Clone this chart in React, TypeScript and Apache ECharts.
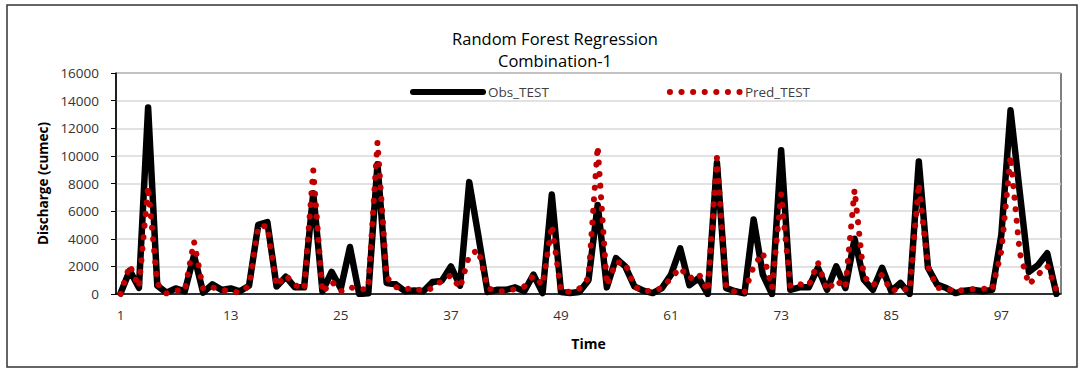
import React, { useEffect, useRef } from "react";
import * as echarts from "echarts";

const FONT = "'Open Sans', 'Noto Sans', sans-serif";

const categories = [
  "1","2","3","4","5","6","7","8","9","10","11","12","13","14","15","16","17","18","19","20",
  "21","22","23","24","25","26","27","28","29","30","31","32","33","34","35","36","37","38","39","40",
  "41","42","43","44","45","46","47","48","49","50","51","52","53","54","55","56","57","58","59","60",
  "61","62","63","64","65","66","67","68","69","70","71","72","73","74","75","76","77","78","79","80",
  "81","82","83","84","85","86","87","88","89","90","91","92","93","94","95","96","97","98","99","100",
  "101","102","103",
];

const obsTest = [
  50, 1700, 450, 13500, 600, 100, 400, 200, 2800, 100,
  700, 300, 400, 200, 600, 5000, 5200, 550, 1250, 480,
  480, 7300, 200, 1600, 400, 3400, 0, 50, 9400, 800,
  700, 200, 250, 200, 870, 950, 2000, 600, 8100, 4200,
  150, 300, 300, 480, 200, 1400, 70, 7200, 150, 70,
  150, 1000, 6450, 480, 2600, 2000, 550, 240, 70, 430,
  1400, 3300, 630, 1150, 0, 9500, 430, 200, 50, 5400,
  1400, 0, 10400, 300, 480, 480, 1900, 300, 2000, 430,
  4000, 1040, 300, 1900, 200, 800, 0, 9600, 1900, 680,
  430, 70, 240, 300, 200, 300, 4300, 13300, 7400, 1600,
  2100, 2950, 0,
];

const predTest = [
  0, 2100, 500, 7800, 750, 50, 250, 250, 3800, 360,
  480, 300, 200, 100, 600, 4900, 4900, 580, 1350, 650,
  340, 8950, 100, 900, 200, 500, 300, 400, 11000, 1200,
  500, 340, 430, 200, 430, 950, 1350, 430, 2800, 3200,
  430, 200, 200, 360, 550, 1330, 650, 5000, 200, 150,
  400, 1150, 10700, 630, 2300, 2250, 530, 200, 240, 430,
  1150, 1900, 1100, 1500, 200, 9850, 430, 150, 100, 2000,
  3000, 430, 7250, 550, 720, 580, 2300, 260, 1000, 430,
  7550, 1280, 600, 1400, 200, 450, 250, 8000, 2000, 430,
  430, 150, 340, 340, 390, 300, 3100, 10000, 3000, 680,
  1400, 2050, 300,
];

const yMin = 0;
const yMax = 16000;
const yStep = 2000;

export default function App() {
  const ref = useRef<HTMLDivElement>(null);

  useEffect(() => {
    if (!ref.current) return;
    const chart = echarts.init(ref.current, undefined, { renderer: "svg" });
    const labelStyle = { fontFamily: FONT, fontSize: 13.5, color: "#333333" };
    chart.setOption({
      animation: false,
      backgroundColor: "#ffffff",
      title: {
        text: "Random Forest Regression\nCombination-1",
        left: 550,
        top: 22,
        textAlign: "center",
        textStyle: {
          fontFamily: FONT,
          fontSize: 16.5,
          fontWeight: "normal",
          color: "#000000",
          lineHeight: 22,
        },
      },
      legend: {
        top: 80,
        left: 405,
        itemWidth: 70,
        itemHeight: 14,
        itemGap: 118,
        textStyle: { fontFamily: FONT, fontSize: 13.5, color: "#404040" },
        data: [
          { name: "Obs_TEST", lineStyle: { width: 6 }, itemStyle: { opacity: 0 } },
          { name: "Pred_TEST", lineStyle: { width: 6 }, itemStyle: { opacity: 0 } },
        ],
      },
      grid: {
        left: 116,
        right: 20,
        top: 73,
        bottom: 75,
        show: true,
        borderColor: "#000000",
        borderWidth: 1,
      },
      xAxis: {
        type: "category",
        data: categories,
        boundaryGap: true,
        axisLine: { lineStyle: { color: "#000000", width: 1.5 } },
        axisTick: { interval: 11, length: 5, lineStyle: { color: "#000000" } },
        axisLabel: { interval: 11, margin: 14, ...labelStyle },
        name: "Time",
        nameLocation: "middle",
        nameGap: 42,
        nameTextStyle: { fontFamily: FONT, fontSize: 14, fontWeight: "bold", color: "#000000" },
        splitLine: { show: false },
      },
      yAxis: {
        type: "value",
        min: yMin,
        max: yMax,
        interval: yStep,
        axisLine: { show: true, lineStyle: { color: "#000000", width: 1.5 } },
        axisTick: { show: true, length: 5, lineStyle: { color: "#000000" } },
        axisLabel: { margin: 17, formatter: (v: number) => String(v), ...labelStyle },
        splitLine: { lineStyle: { color: "#d9d9d9", width: 1.5 } },
        name: "Discharge (cumec)",
        nameLocation: "middle",
        nameGap: 58,
        nameTextStyle: { fontFamily: FONT, fontSize: 13.5, fontWeight: "bold", color: "#000000" },
      },
      series: [
        {
          name: "Obs_TEST",
          type: "line",
          data: obsTest,
          symbol: "none",
          itemStyle: { color: "#000000" },
          lineStyle: { color: "#000000", width: 6.5, join: "round", cap: "round" },
          z: 2,
        },
        {
          name: "Pred_TEST",
          type: "line",
          data: predTest,
          symbol: "none",
          itemStyle: { color: "#C00000" },
          lineStyle: { color: "#C00000", width: 6, type: [0.1, 11.5], cap: "round", join: "round" },
          z: 3,
        },
      ],
      graphic: [
        {
          type: "rect",
          shape: { x: 7, y: 5, width: 1070, height: 362 },
          style: { fill: "none", stroke: "#333333", lineWidth: 1.5 },
          silent: true,
        },
      ],
    });
    return () => chart.dispose();
  }, []);

  return (
    <div
      ref={ref}
      style={{ position: "absolute", left: 0, top: 0, width: 1081, height: 369 }}
    />
  );
}
